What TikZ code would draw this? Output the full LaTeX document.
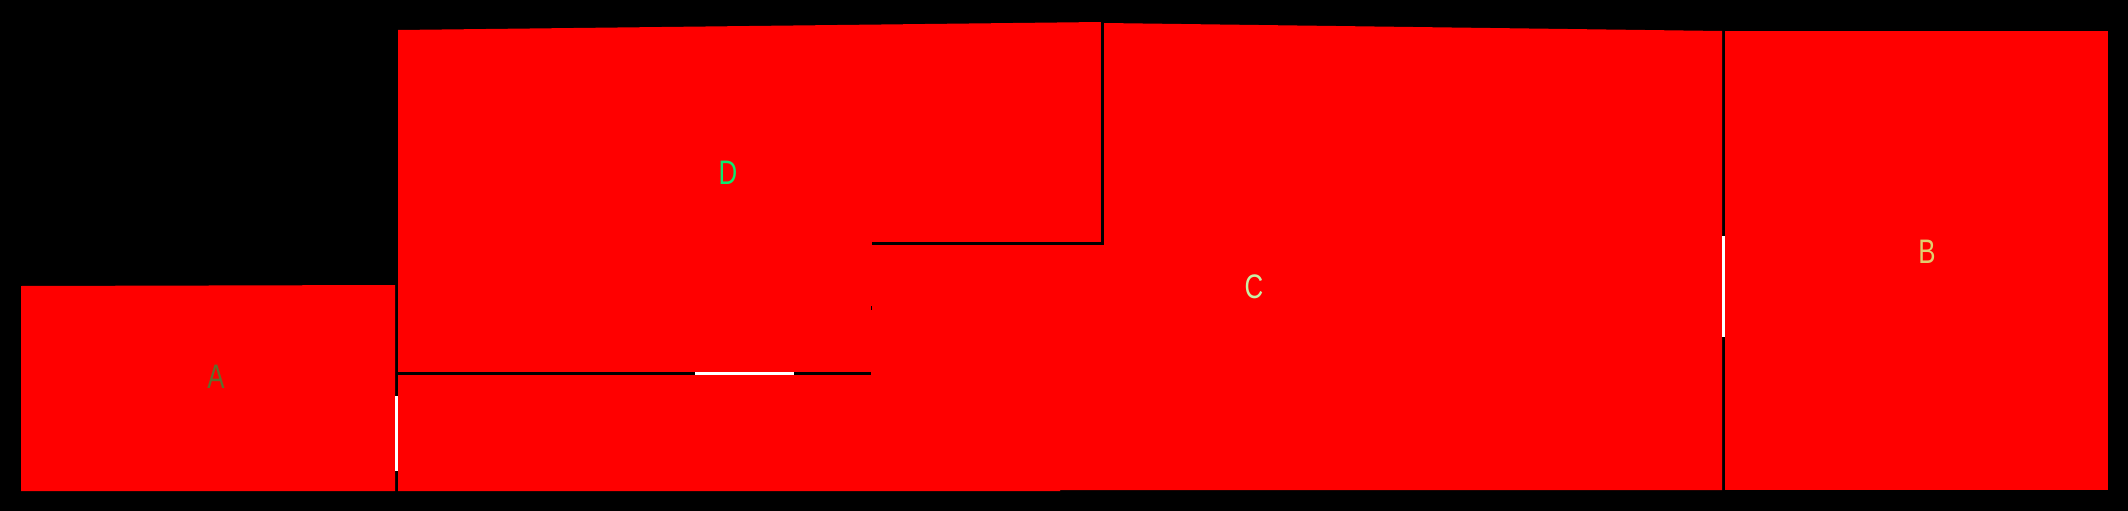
\documentclass[tikz,border=0pt]{standalone}
\usepackage{fontspec}
\newfontfamily\labfont[FakeStretch=0.76]{Liberation Sans}
\definecolor{roomred}{RGB}{255,0,0}
\definecolor{colA}{RGB}{95,110,45}
\definecolor{colB}{RGB}{225,205,110}
\definecolor{colC}{RGB}{200,240,165}
\definecolor{colD}{RGB}{10,235,110}
\begin{document}
\begin{tikzpicture}[x=1pt,y=-1pt,
  wall/.style={line width=3pt,black},
  door/.style={line width=3pt,white},
  lab/.style={font=\labfont\fontsize{34}{40}\selectfont, inner sep=0pt}]
\fill[black] (0,0) rectangle (2128,511);
\useasboundingbox (0,0) rectangle (2128,511);
% rooms
\fill[roomred] (21,286) -- (395,285) -- (395,491) -- (21,491) -- cycle;
\fill[roomred] (398,30) -- (1101,22) -- (1104,23) -- (1722,31) -- (1722,490) -- (1060,490) -- (1060,491) -- (398,491) -- cycle;
\fill[roomred] (1725,31) rectangle (2108,490);
% walls
\draw[wall] (1102.5,22) -- (1102.5,245);
\draw[wall] (872,243.5) -- (1104,243.5);
\draw[wall] (398,373.5) -- (871,373.5);
\draw[line width=1pt] (871.5,306) -- (871.5,310);
% doors
\draw[door] (695,373.5) -- (794,373.5);
\draw[door] (396.5,396) -- (396.5,471);
\draw[door] (1723.5,236) -- (1723.5,337);
% labels
\node[lab, text=colA] (A) at (216,377) {A};
\node[lab, text=colD] (D) at (728,173) {D};
\node[lab, text=colC] (C) at (1254,287) {C};
\node[lab, text=colB] (B) at (1927,252) {B};
\end{tikzpicture}
\end{document}
